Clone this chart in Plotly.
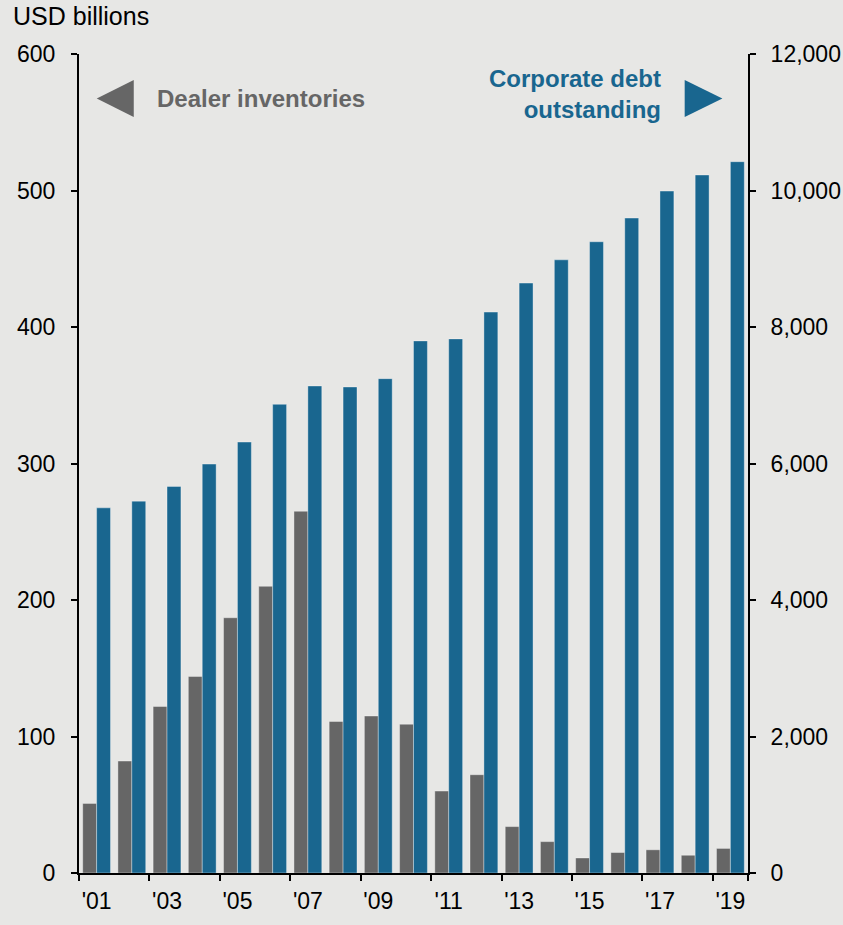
import plotly.graph_objects as go

# Year labels (2001-2019)
years = ["'01", "'02", "'03", "'04", "'05", "'06", "'07", "'08", "'09", "'10",
         "'11", "'12", "'13", "'14", "'15", "'16", "'17", "'18", "'19"]

# Primary dealer corporate bond inventories, USD billions (left axis)
dealer_inventories = [51, 82, 122, 144, 187, 210, 265, 111, 115, 109,
                      60, 72, 34, 23, 11, 15, 17, 13, 18]

# Corporate debt outstanding, USD billions (right axis)
corporate_debt = [5350, 5448, 5664, 5991, 6314, 6867, 7136, 7121, 7243, 7796,
                  7826, 8218, 8643, 8984, 9249, 9596, 9991, 10227, 10422]

x_tick_labels = ["'01", "'03", "'05", "'07", "'09", "'11", "'13", "'15", "'17", "'19"]

GRAY = "#666666"
BLUE = "#19668F"
BG = "#E7E7E5"
FONT = "Liberation Sans, Arial, sans-serif"

fig = go.Figure()
fig.add_trace(go.Bar(
    x=years, y=dealer_inventories, name="Dealer inventories",
    marker=dict(color=GRAY, line=dict(color="rgba(255,255,255,0.35)", width=1)),
    offsetgroup="inv", yaxis="y",
))
fig.add_trace(go.Bar(
    x=years, y=corporate_debt, name="Corporate debt outstanding",
    marker=dict(color=BLUE, line=dict(color="rgba(255,255,255,0.35)", width=1)),
    offsetgroup="debt", yaxis="y2",
))

axis_common = dict(
    showgrid=False, zeroline=False, showline=True, linecolor="black", linewidth=2,
    ticks="outside", ticklen=6, tickwidth=2, tickcolor="black", automargin=False,
    tickfont=dict(family=FONT, size=23, color="black"),
)

fig.update_layout(
    width=843, height=925,
    margin=dict(l=79, r=95, t=54, b=52),
    paper_bgcolor=BG, plot_bgcolor=BG,
    barmode="group", bargap=0.21, bargroupgap=0,
    showlegend=False,
    font=dict(family=FONT, color="black"),
    xaxis=dict(
        **axis_common, type="category", categoryorder="array", categoryarray=years,
        tickmode="array", tickvals=x_tick_labels, ticktext=x_tick_labels,
        tickson="boundaries", range=[-0.5, 18.5], tickangle=0,
        ticklabelstandoff=6,
    ),
    yaxis=dict(
        **axis_common, range=[0, 600], dtick=100, tick0=0,
        ticklabelstandoff=11,
    ),
    yaxis2=dict(
        **axis_common, range=[0, 12000], dtick=2000, tick0=0, tickformat=",",
        overlaying="y", side="right", ticklabelstandoff=10,
    ),
)

# Axis unit label
fig.add_annotation(
    text="USD billions", xref="paper", yref="paper", x=-0.102, y=1.047,
    xanchor="left", yanchor="middle", showarrow=False,
    font=dict(family=FONT, size=25, color="black"),
)

# Series labels with direction arrows pointing at their axes
fig.add_annotation(
    text="<b>Dealer inventories</b>", xref="paper", yref="paper", x=0.113, y=0.9457,
    xanchor="left", yanchor="middle", showarrow=False,
    font=dict(family=FONT, size=24, color=GRAY),
)
fig.add_annotation(
    text="<b>Corporate debt<br>outstanding</b>", xref="paper", yref="paper", x=0.873, y=0.9506,
    xanchor="right", yanchor="middle", align="right", showarrow=False,
    font=dict(family=FONT, size=24, color=BLUE),
)
fig.add_shape(
    type="path", xref="paper", yref="paper",
    path="M 0.0265 0.9457 L 0.0818 0.9683 L 0.0818 0.9231 Z",
    fillcolor=GRAY, line=dict(width=0),
)
fig.add_shape(
    type="path", xref="paper", yref="paper",
    path="M 0.9617 0.9457 L 0.9054 0.9683 L 0.9054 0.9231 Z",
    fillcolor=BLUE, line=dict(width=0),
)

fig.write_html("out.html")
